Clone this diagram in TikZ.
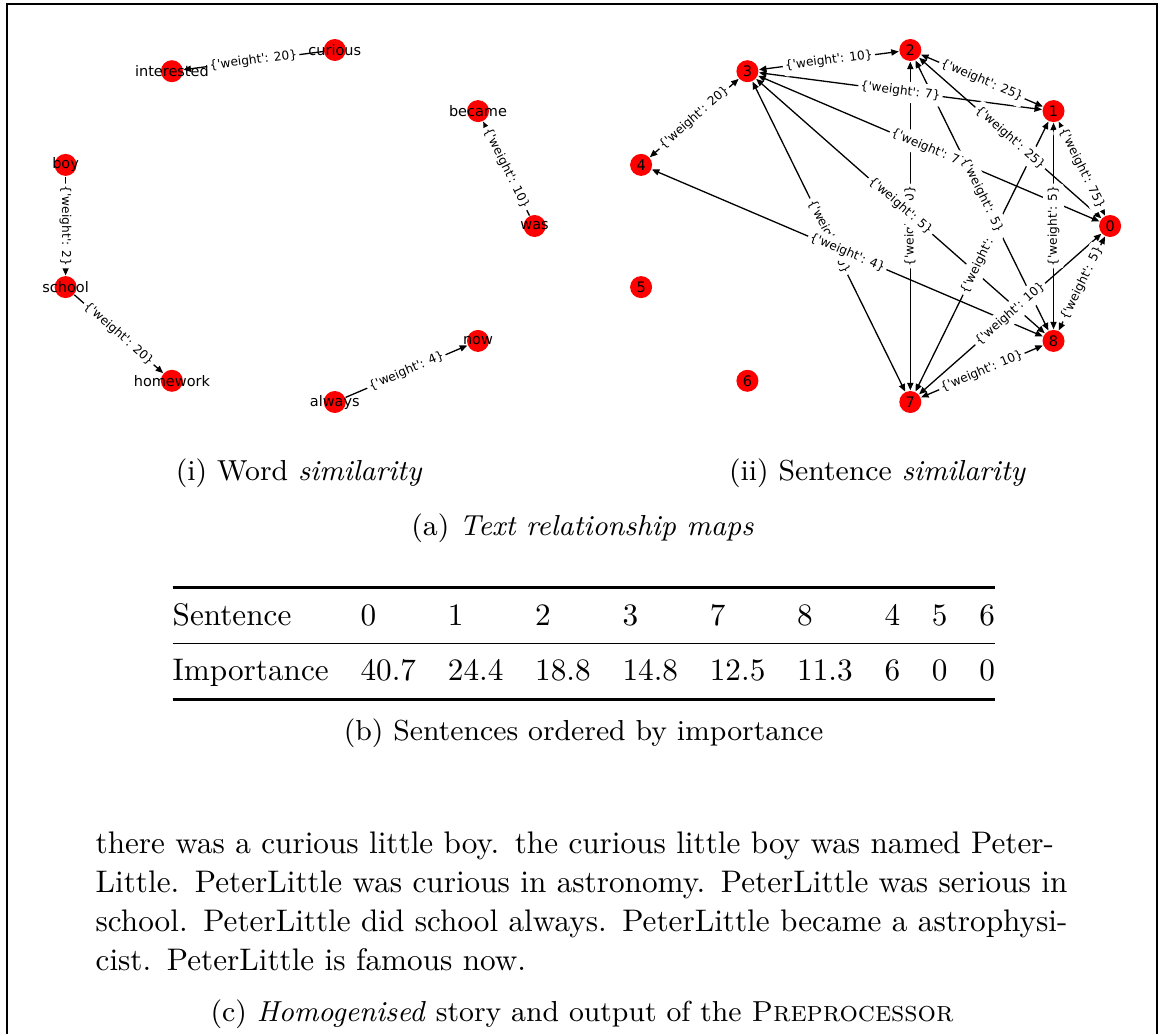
\documentclass[tikz,border=0pt]{standalone}
\usepackage{fontspec}
\usepackage{booktabs}
\usetikzlibrary{arrows.meta}
\newfontfamily\graphfont{DejaVu Sans}[Ligatures=TeXOff]
\newcommand{\nodefont}{\graphfont\fontsize{4.46pt}{5pt}\selectfont}
\newcommand{\edgefont}{\graphfont\fontsize{3.75pt}{4.2pt}\selectfont}
\newcommand{\capfont}{\fontsize{8.9pt}{11pt}\selectfont}
\newcommand{\wgt}[1]{\{'weight': #1\}}
\tikzset{
  vtx/.style={circle,fill=red,minimum size=6.77pt,inner sep=0pt,font=\nodefont},
  wordtxt/.style={font=\nodefont},
  dirlink/.style={line width=0.4pt,->},
  bilink/.style={line width=0.4pt,<->},
  wlabel/.style={midway,sloped,fill=white,rounded corners=1pt,inner xsep=0.7pt,inner ysep=1.4pt,font=\edgefont},
  subcap/.style={anchor=base,font=\capfont},
}
\begin{document}
\begin{tikzpicture}[x=0.3077pt,y=-0.3077pt,>={Triangle[length=2.3pt,width=1.9pt]},
  font=\fontsize{9.6}{12}\selectfont]
  \useasboundingbox (0,0) rectangle (1159,1033);
  \draw[line width=0.5pt] (7,1045) |- (1157,4) -- (1157,1045);

  % word similarity
  \node[vtx,label={[wordtxt]center:was}] (was) at (534.6,226) {};
  \node[vtx,label={[wordtxt]center:became}] (became) at (478,111.1) {};
  \node[vtx,label={[wordtxt]center:curious}] (curious) at (334.8,50) {};
  \node[vtx,label={[wordtxt]center:interested}] (interested) at (171.9,71.2) {};
  \node[vtx,label={[wordtxt]center:boy}] (boy) at (65.6,164.9) {};
  \node[vtx,label={[wordtxt]center:school}] (school) at (65.6,287.1) {};
  \node[vtx,label={[wordtxt]center:homework}] (homework) at (171.9,380.8) {};
  \node[vtx,label={[wordtxt]center:always}] (always) at (334.8,402) {};
  \node[vtx,label={[wordtxt]center:now}] (now) at (478,340.9) {};
  \draw[dirlink] (curious) -- (interested);
  \draw[dirlink] (was) -- (became);
  \draw[dirlink] (boy) -- (school);
  \draw[dirlink] (school) -- (homework);
  \draw[dirlink] (always) -- (now);
  \path (curious) -- node[wlabel] {\wgt{20}} (interested);
  \path (was) -- node[wlabel] {\wgt{10}} (became);
  \path (boy) -- node[wlabel] {\wgt{2}} (school);
  \path (school) -- node[wlabel] {\wgt{20}} (homework);
  \path (always) -- node[wlabel] {\wgt{4}} (now);

  % sentence similarity
  \node[vtx] (s0) at (1110.1,226) {0};
  \node[vtx] (s1) at (1053.5,111.1) {1};
  \node[vtx] (s2) at (910.3,50) {2};
  \node[vtx] (s3) at (747.4,71.2) {3};
  \node[vtx] (s4) at (641.1,164.9) {4};
  \node[vtx] (s5) at (641.1,287.1) {5};
  \node[vtx] (s6) at (747.4,380.8) {6};
  \node[vtx] (s7) at (910.3,402) {7};
  \node[vtx] (s8) at (1053.5,340.9) {8};
  \draw[bilink] (s2) -- (s3);
  \draw[bilink] (s3) -- (s4);
  \draw[bilink] (s3) -- (s1);
  \draw[bilink] (s2) -- (s1);
  \draw[bilink] (s3) -- (s0);
  \draw[bilink] (s2) -- (s0);
  \draw[bilink] (s1) -- (s0);
  \draw[bilink] (s7) -- (s2);
  \draw[bilink] (s3) -- (s7);
  \draw[bilink] (s1) -- (s7);
  \draw[bilink] (s8) -- (s1);
  \draw[bilink] (s0) -- (s8);
  \draw[bilink] (s0) -- (s7);
  \draw[bilink] (s7) -- (s8);
  \draw[bilink] (s3) -- (s8);
  \draw[bilink] (s4) -- (s8);
  \draw[bilink] (s2) -- (s8);
  \path (s2) -- node[wlabel] {\wgt{10}} (s3);
  \path (s3) -- node[wlabel] {\wgt{20}} (s4);
  \path (s3) -- node[wlabel] {\wgt{7}} (s1);
  \path (s2) -- node[wlabel] {\wgt{25}} (s1);
  \path (s3) -- node[wlabel] {\wgt{7}} (s0);
  \path (s2) -- node[wlabel] {\wgt{25}} (s0);
  \path (s1) -- node[wlabel] {\wgt{75}} (s0);
  \path (s7) -- node[wlabel] {\wgt{0}} (s2);
  \path (s3) -- node[wlabel] {\wgt{0}} (s7);
  \path (s1) -- node[wlabel] {\wgt{5}} (s7);
  \path (s8) -- node[wlabel] {\wgt{5}} (s1);
  \path (s0) -- node[wlabel] {\wgt{5}} (s8);
  \path (s0) -- node[wlabel] {\wgt{10}} (s7);
  \path (s7) -- node[wlabel] {\wgt{10}} (s8);
  \path (s3) -- node[wlabel] {\wgt{5}} (s8);
  \path (s4) -- node[wlabel] {\wgt{4}} (s8);
  \path (s2) -- node[wlabel] {\wgt{5}} (s8);

  % captions, table and story
  \node[subcap] (capi) at (299,480) {(i) Word \textit{similarity}};
  \node[subcap] (capii) at (877.5,480) {(ii) Sentence \textit{similarity}};
  \node[subcap] (capa) at (582.5,535) {(a) \textit{Text relationship maps}};
  \node[anchor=north west,inner sep=0pt] (order) at (172,585.7) {\setlength{\tabcolsep}{4.9pt}%
    \begin{tabular}{@{}llllllllll@{}}
      \toprule
      Sentence & 0 & 1 & 2 & 3 & 7 & 8 & 4 & 5 & 6 \\
      \midrule
      Importance & 40.7 & 24.4 & 18.8 & 14.8 & 12.5 & 11.3 & 6 & 0 & 0 \\
      \bottomrule
    \end{tabular}};
  \node[subcap] (capb) at (583.5,740) {(b) Sentences ordered by importance};
  \node[anchor=north west,inner sep=0pt,text width=297.9pt,align=left] (story) at (95,825.7) {%
    \makebox[\linewidth][s]{\strut there was a curious little boy. the curious little boy was named Peter-}\\
    \makebox[\linewidth][s]{Little. PeterLittle was curious in astronomy. PeterLittle was serious in}\\
    \makebox[\linewidth][s]{school. PeterLittle did school always. PeterLittle became a astrophysi-}\\
    cist. PeterLittle is famous now.};
  \node[subcap] (capc) at (582,1021) {(c) \textit{Homogenised} story and output of the \textsc{Preprocessor}};
\end{tikzpicture}
\end{document}
